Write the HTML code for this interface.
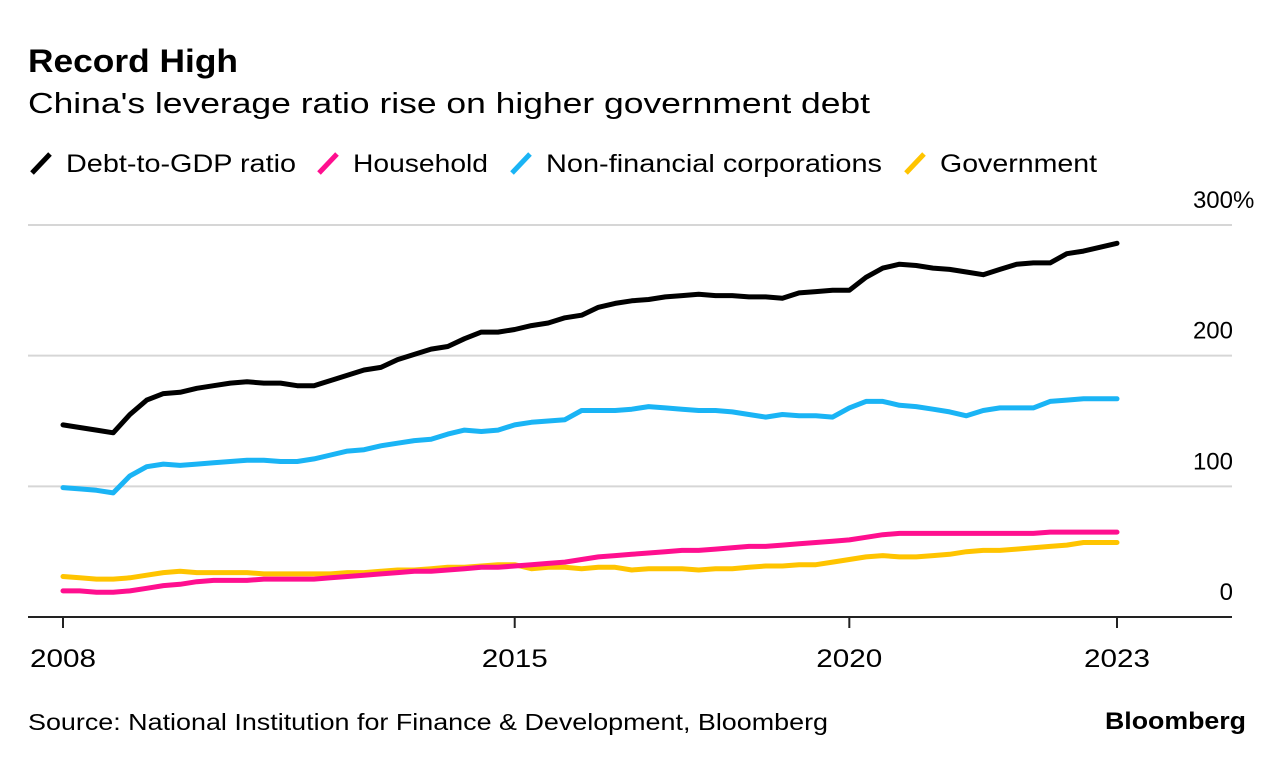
<!DOCTYPE html>
<html><head><meta charset="utf-8"><style>
body{margin:0;background:#fff;font-family:"Liberation Sans",sans-serif;}
#c{position:relative;width:1285px;height:764px;overflow:hidden}
</style></head><body><div id="c">
<svg id="s" width="1285" height="764" style="position:absolute;left:0;top:0">
<text x="28" y="72" font-size="32" font-weight="bold" fill="#000" textLength="210" lengthAdjust="spacingAndGlyphs">Record High</text>
<text x="28" y="113" font-size="29" fill="#000" textLength="842" lengthAdjust="spacingAndGlyphs">China's leverage ratio rise on higher government debt</text>
<g id="legend"></g>
<g id="grid"></g>
<g id="lines"></g>
<g id="xaxis"></g>
<text x="28" y="730" font-size="23" fill="#000" textLength="800" lengthAdjust="spacingAndGlyphs">Source: National Institution for Finance &amp; Development, Bloomberg</text>
<text x="1105" y="729" font-size="24" font-weight="bold" fill="#000" textLength="141" lengthAdjust="spacingAndGlyphs">Bloomberg</text>
</svg></div>
<script>
const debtGDP=[147,145,143,141,155,166,171,172,175,177,179,180,179,179,177,177,181,185,189,191,197,201,205,207,213,218,218,220,223,225,229,231,237,240,242,243,245,246,247,246,246,245,245,244,248,249,250,250,260,267,270,269,267,266,264,262,266,270,271,271,278,280,283,286];
const nonFin=[99,98,97,95,108,115,117,116,117,118,119,120,120,119,119,121,124,127,128,131,133,135,136,140,143,142,143,147,149,150,151,158,158,158,159,161,160,159,158,158,157,155,153,155,154,154,153,160,165,165,162,161,159,157,154,158,160,160,160,165,166,167,167,167];
const household=[20,20,19,19,20,22,24,25,27,28,28,28,29,29,29,29,30,31,32,33,34,35,35,36,37,38,38,39,40,41,42,44,46,47,48,49,50,51,51,52,53,54,54,55,56,57,58,59,61,63,64,64,64,64,64,64,64,64,64,65,65,65,65,65];
const government=[31,30,29,29,30,32,34,35,34,34,34,34,33,33,33,33,33,34,34,35,36,36,37,38,38,39,40,40,37,38,38,37,38,38,36,37,37,37,36,37,37,38,39,39,40,40,42,44,46,47,46,46,47,48,50,51,51,52,53,54,55,57,57,57];
const yTicks=[0,100,200,300];
const xTickIdx=[0,27,47,63];
const xTickLabels=["2008","2015","2020","2023"];
const legendNames=["Debt-to-GDP ratio","Household","Non-financial corporations","Government"];
const NS="http://www.w3.org/2000/svg";
const X=i=>63+i*(1117-63)/63;
const Y=v=>617-v*(617-225)/300;
function mk(t,a,p){const e=document.createElementNS(NS,t);for(const k in a)e.setAttribute(k,a[k]);p.appendChild(e);return e;}
const grid=document.getElementById('grid');
yTicks.forEach((v,i)=>{
 if(v>0){const l=mk('line',{x1:28,x2:1232,y1:Y(v),y2:Y(v),stroke:'#d6d6d6','stroke-width':2},grid);
 
 }
 const t=mk('text',{x:1233,y:Y(v)-17,'font-size':24,'text-anchor':'end',fill:'#000'},grid);
 t.textContent=String(v);
 
 
 if(v===300){const p=mk('text',{x:1233,y:Y(v)-17,'font-size':24,fill:'#000'},grid);p.textContent='%';
 
 }
});
const lines=document.getElementById('lines');
const series=[[government,'#ffc400','government-line'],[household,'#ff0f8f','household-line'],[nonFin,'#1ab4f5','non-financial-line'],[debtGDP,'#000','debt-to-gdp-line']];
series.forEach(([d,c,n])=>{
 const p=mk('polyline',{points:d.map((v,i)=>X(i).toFixed(1)+','+Y(v).toFixed(1)).join(' '),fill:'none',stroke:c,'stroke-width':5,'stroke-linejoin':'round','stroke-linecap':'round'},lines);
 
 
});
const xa=document.getElementById('xaxis');
const base=mk('line',{x1:28,x2:1232,y1:617,y2:617,stroke:'#222','stroke-width':2},xa);


xTickIdx.forEach((ix,i)=>{
 const tk=mk('line',{x1:X(ix),x2:X(ix),y1:617,y2:628,stroke:'#222','stroke-width':2},xa);
 
 
 const t=mk('text',{x:X(ix),y:667,'font-size':25,'text-anchor':'middle',fill:'#000',textLength:66,lengthAdjust:'spacingAndGlyphs'},xa);
 t.textContent=xTickLabels[i];
 
 
});
const lg=document.getElementById('legend');
const lcol=['#000','#ff0f8f','#1ab4f5','#ffc400'];
const tx=[66,353,546,940];
const lw=[230,135,336,157];
legendNames.forEach((n,i)=>{
 const g=mk('g',{},lg);
 
 
 mk('line',{x1:tx[i]-34,y1:173,x2:tx[i]-16,y2:154,stroke:lcol[i],'stroke-width':5},g);
 const t=mk('text',{x:tx[i],y:172,'font-size':25,fill:'#000',textLength:lw[i],lengthAdjust:'spacingAndGlyphs'},g);
 t.textContent=n;
});
</script></body></html>
